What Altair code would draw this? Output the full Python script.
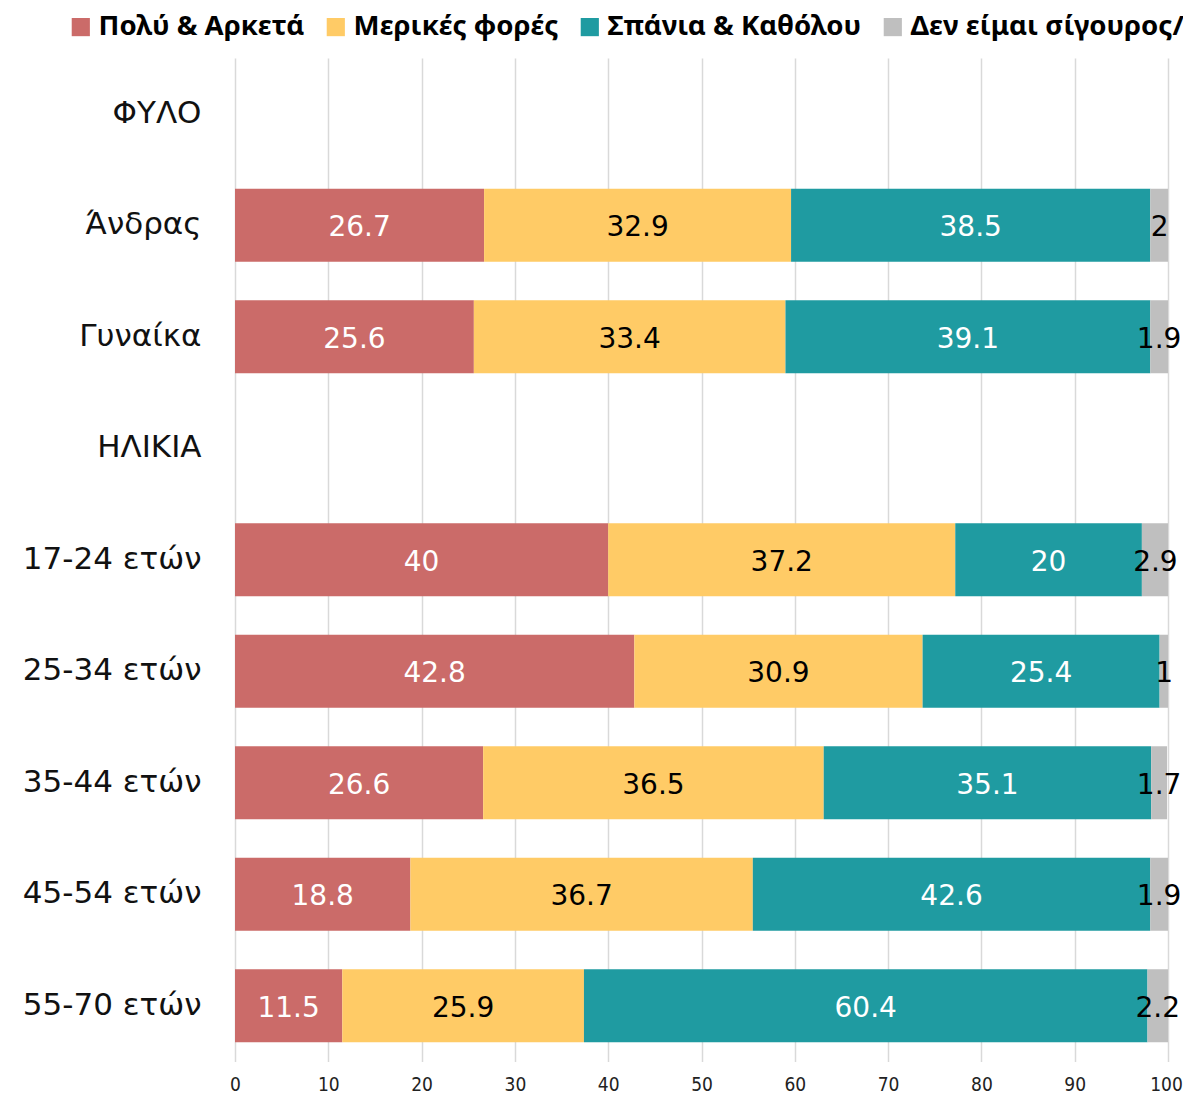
import altair as alt
import pandas as pd

categories = ["ΦΥΛΟ", "Άνδρας", "Γυναίκα", "ΗΛΙΚΙΑ", "17-24 ετών", "25-34 ετών",
              "35-44 ετών", "45-54 ετών", "55-70 ετών"]
series = ["Πολύ & Αρκετά", "Μερικές φορές", "Σπάνια & Καθόλου", "Δεν είμαι σίγουρος/η"]
colors = ["#CB6B69", "#FFCB66", "#1F9BA1", "#BFBFBF"]
text_colors = ["white", "black", "white", "black"]
x_ticks = [0, 10, 20, 30, 40, 50, 60, 70, 80, 90, 100]

polu = [None, 26.7, 25.6, None, 40, 42.8, 26.6, 18.8, 11.5]
merikes = [None, 32.9, 33.4, None, 37.2, 30.9, 36.5, 36.7, 25.9]
spania = [None, 38.5, 39.1, None, 20, 25.4, 35.1, 42.6, 60.4]
densig = [None, 2, 1.9, None, 2.9, 1, 1.7, 1.9, 2.2]

values = [polu, merikes, spania, densig]

rows = []
for ci, cat in enumerate(categories):
    cum = 0.0
    for si, s in enumerate(series):
        v = values[si][ci]
        if v is None:
            continue
        lab = ("%g" % v)
        rows.append({"cat": cat, "series": s, "order": si, "start": cum, "end": cum + v,
                     "mid": cum + v / 2, "label": lab, "tcolor": text_colors[si]})
        cum += v
df = pd.DataFrame(rows)

ycat = alt.Y("cat:N", sort=categories, scale=alt.Scale(domain=categories, paddingInner=0.345, paddingOuter=0.1725),
             axis=alt.Axis(title=None, labelFont="DejaVu Sans", labelFontSize=31, labelColor="#111111",
                           labelPadding=34, ticks=False, domain=False))

xscale = alt.Scale(domain=[0, 100], nice=False)

bars = alt.Chart(df).mark_bar(clip=True).encode(
    x=alt.X("start:Q", scale=xscale,
            axis=alt.Axis(title=None, values=x_ticks, grid=True, gridColor="#D9D9D9",
                          gridWidth=1.5, domain=False, ticks=False, labelFlush=False,
                          labelOffset={"condition": {"test": "datum.value == 100", "value": -2}, "value": 0},
                          labelFont="DejaVu Sans Condensed, Roboto, sans-serif",
                          labelFontSize=19, labelColor="#222222", labelPadding=14)),
    x2="end:Q",
    y=ycat,
    color=alt.Color("series:N", sort=series, scale=alt.Scale(domain=series, range=colors),
                    legend=alt.Legend(title=None, orient="none", direction="horizontal",
                                      legendX=-168, legendY=-45, symbolType="square", symbolSize=330,
                                      symbolStrokeWidth=0, labelFont="Noto Sans", labelFontWeight="bold",
                                      labelFontSize=27.6, labelColor="#000000", labelOffset=4,
                                      columnPadding=17, labelLimit=500)),
    order="order:Q",
)

texts = alt.Chart(df).mark_text(font="DejaVu Sans", fontSize=28, baseline="middle", align="center", dy=3).encode(
    x=alt.X("mid:Q", scale=xscale),
    y=alt.Y("cat:N", sort=categories, scale=alt.Scale(domain=categories)),
    text="label:N",
    color=alt.Color("tcolor:N", scale=None),
)

chart = alt.layer(bars, texts).properties(
    width=933, height=1003.5,
    autosize=alt.AutoSizeParams(type="none"),
    padding={"left": 227, "top": 50, "right": 15, "bottom": 36.5},
).configure_view(stroke=None)

chart.save("out.html", embed_options={"renderer": "svg", "actions": False})
